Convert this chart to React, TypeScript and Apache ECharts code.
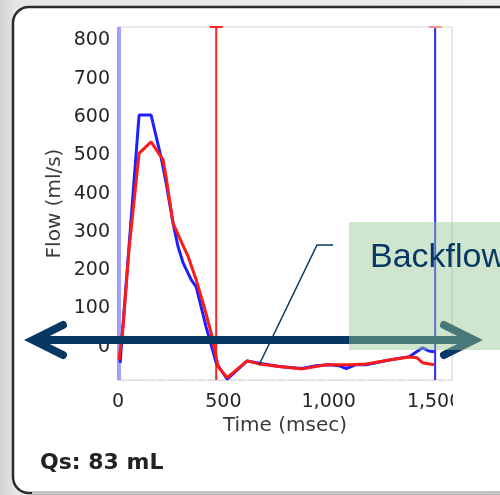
import React, { useEffect, useRef } from "react";
import * as echarts from "echarts";

// Flow curves (time in msec, flow in ml/s)
const blueFlow: [number, number][] = [
  [10, -47], [100, 600], [157, 600], [204, 491], [228, 423], [261, 318], [285, 256],
  [309, 214], [347, 170], [371, 151], [418, 47], [466, -47], [518, -90], [613, -42],
  [670, -48], [765, -57], [874, -62], [940, -55], [1002, -52], [1050, -55], [1083, -62],
  [1130, -52], [1178, -52], [1287, -40], [1382, -31], [1445, -8], [1475, -16], [1500, -18],
];
const redFlow: [number, number][] = [
  [5, -39], [24, 47], [52, 248], [100, 500], [157, 530], [214, 483], [228, 439], [261, 318],
  [290, 282], [333, 230], [371, 170], [409, 99], [442, 31], [475, -57], [518, -86],
  [613, -42], [670, -50], [765, -57], [874, -63], [988, -52], [1097, -52], [1178, -50],
  [1287, -40], [1382, -32], [1420, -34], [1445, -47], [1500, -52],
];
// Marker positions (msec)
const startMarker = 5;
const valveMarker = 466;
const endMarker = 1505;

const xMin = 0;
const xMax = 1585;
const yMin = -92;
const yMax = 830;

const xTickStep = 500;
const yTickStep = 100;

const xTitle = "Time (msec)";
const yTitle = "Flow (ml/s)";
const volumeLabel = "Qs: 83 mL";
const calloutLabel = "Backflow";

const fmtThousands = (v: number) =>
  String(v).replace(/\B(?=(\d{3})+(?!\d))/g, ",");

export default function App() {
  const ref = useRef<HTMLDivElement>(null);
  useEffect(() => {
    if (!ref.current) return;
    const chart = echarts.init(ref.current, null, { renderer: "svg" });
    const navy = "#073763";
    const font = "DejaVu Sans";
    chart.setOption({
      animation: false,
      backgroundColor: "transparent",
      grid: {
        left: 118,
        right: 48,
        top: 27,
        bottom: 115,
        show: true,
        borderColor: "#d6d6d6",
        borderWidth: 1,
        backgroundColor: "#fff",
        z: 1,
      },
      xAxis: {
        type: "value",
        min: xMin,
        max: xMax,
        interval: xTickStep,
        name: xTitle,
        nameLocation: "middle",
        nameGap: 32,
        nameTextStyle: { fontFamily: font, fontSize: 20, color: "#3a3a3a" },
        axisLine: { show: false },
        axisTick: { show: false },
        axisLabel: {
          fontFamily: font,
          fontSize: 19,
          color: "#262626",
          margin: 10,
          formatter: (v: number) => (v % xTickStep === 0 ? fmtThousands(v) : ""),
        },
        splitLine: { show: true, lineStyle: { color: "#ececec", width: 1 } },
      },
      yAxis: {
        type: "value",
        min: yMin,
        max: yMax,
        splitNumber: 9,
        name: yTitle,
        nameLocation: "middle",
        nameGap: 53,
        nameTextStyle: { fontFamily: font, fontSize: 20, color: "#3a3a3a" },
        axisLine: { show: false },
        axisTick: { show: false },
        axisLabel: {
          fontFamily: font,
          fontSize: 19,
          color: "#262626",
          margin: 8,
          formatter: (v: number) => (v % yTickStep === 0 ? String(v) : ""),
        },
        splitLine: { show: true, lineStyle: { color: "#dcdcdc", width: 1, type: [7, 3] } },
      },
      series: [
        {
          type: "line",
          data: [[startMarker, yMin], [startMarker, yMax]],
          showSymbol: false,
          lineStyle: { color: "rgba(90,90,255,0.55)", width: 4 },
          z: 3,
        },
        {
          type: "line",
          data: [
            [valveMarker, yMin],
            { value: [valveMarker, yMax], symbol: "rect", symbolSize: [13, 2] },
          ],
          symbol: "none",
          itemStyle: { color: "#ff2020" },
          lineStyle: { color: "#ff2020", width: 2 },
          z: 3,
        },
        {
          type: "line",
          data: [
            [endMarker, yMin],
            { value: [endMarker, yMax], symbol: "rect", symbolSize: [13, 2], itemStyle: { color: "#ff9090" } },
          ],
          symbol: "none",
          lineStyle: { color: "#2a2aff", width: 2 },
          z: 3,
        },
        {
          type: "line",
          data: blueFlow,
          showSymbol: false,
          lineStyle: { color: "#2020ff", width: 3 },
          z: 4,
        },
        {
          type: "line",
          data: redFlow,
          showSymbol: false,
          lineStyle: { color: "#ff1a1a", width: 3 },
          z: 5,
        },
      ],
      graphic: [
        // background outside the panel
        {
          type: "rect",
          z: -10,
          silent: true,
          shape: { x: 0, y: 0, width: 500, height: 495 },
          style: {
            fill: new echarts.graphic.LinearGradient(0, 0, 1, 0, [
              { offset: 0, color: "#d4d4d4" },
              { offset: 0.03, color: "#e6e6e6" },
              { offset: 1, color: "#ececec" },
            ]),
          },
        },
        // panel
        {
          type: "rect",
          z: -9,
          silent: true,
          shape: { x: 13, y: 7, width: 560, height: 486, r: 16 },
          style: { fill: "#ffffff", stroke: "#2b2b2b", lineWidth: 2.5 },
        },
        {
          type: "line",
          z: -8,
          silent: true,
          shape: { x1: 32, y1: 493, x2: 500, y2: 493 },
          style: { stroke: "#c4c4c4", lineWidth: 2.5 },
        },
        // clip tail of last tick label
        {
          type: "rect",
          z: 50,
          silent: true,
          shape: { x: 453, y: 383, width: 47, height: 30 },
          style: { fill: "#ffffff" },
        },
        {
          type: "text",
          z: 50,
          left: 40,
          top: 450,
          style: {
            text: volumeLabel,
            fontFamily: font,
            fontWeight: "bold",
            fontSize: 22,
            fill: "#222",
          },
        },
        // leader line
        {
          type: "polyline",
          z: 60,
          silent: true,
          shape: { points: [[259, 365], [317, 245], [333, 245]] },
          style: { stroke: navy, lineWidth: 1.5, fill: "none" },
        },
        // double arrow
        {
          type: "line",
          z: 60,
          silent: true,
          shape: { x1: 36, y1: 340, x2: 470, y2: 340 },
          style: { stroke: navy, lineWidth: 8 },
        },
        {
          type: "polyline",
          z: 60,
          silent: true,
          shape: { points: [[63, 325], [33, 340], [63, 355]] },
          style: { stroke: navy, lineWidth: 8, lineCap: "round", lineJoin: "miter", fill: "none" },
        },
        {
          type: "polyline",
          z: 60,
          silent: true,
          shape: { points: [[444, 325], [474, 340], [444, 355]] },
          style: { stroke: navy, lineWidth: 8, lineCap: "round", lineJoin: "miter", fill: "none" },
        },
        // callout box
        {
          type: "rect",
          z: 70,
          silent: true,
          shape: { x: 349, y: 222, width: 160, height: 128 },
          style: { fill: "rgba(150,198,147,0.46)" },
        },
        {
          type: "text",
          z: 71,
          x: 370,
          y: 272,
          style: {
            text: calloutLabel,
            fontFamily: "Liberation Sans",
            fontSize: 34,
            fill: navy,
            verticalAlign: "bottom",
          },
        },
      ],
    });
    return () => chart.dispose();
  }, []);
  return (
    <div
      ref={ref}
      style={{ position: "fixed", left: 0, top: 0, width: 500, height: 495 }}
    />
  );
}
